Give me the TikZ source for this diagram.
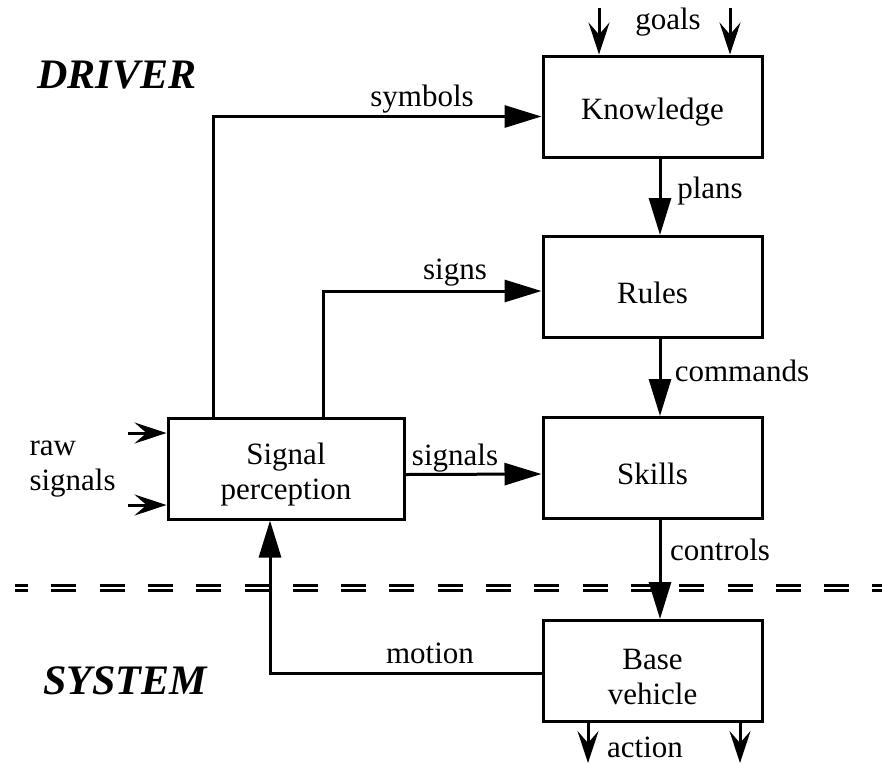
\documentclass[tikz,border=0pt]{standalone}
\usepackage{fontspec}
\setmainfont{Liberation Serif}
\usetikzlibrary{arrows.meta}
\begin{document}
\begin{tikzpicture}[x=1pt,y=-1pt,
  line width=3pt,
  every node/.style={font=\fontsize{31}{37}\selectfont, inner sep=0pt},
  blockbox/.style={draw, rectangle, minimum width=219pt, minimum height=101pt},
  boxtext/.style={label={[align=center, yshift=-6pt]center:{#1}}},
  bigtip/.style={-{Triangle[length=37pt,width=22pt]}},
  smalltip/.style={-{Stealth[length=32pt,width=21pt,inset=12pt]}},
  sidelabel/.style={font=\fontsize{42}{48}\selectfont\bfseries\itshape},
  divider/.style={line width=3pt, dash pattern=on 25pt off 23.3pt, dash phase=12pt}
]
\useasboundingbox (0,0) rectangle (882,764);

% blocks
\node[blockbox, boxtext=Knowledge] (know)   at (652.5,106.5) {};
\node[blockbox, boxtext=Rules]     (rules)  at (652.5,287)   {};
\node[blockbox, boxtext=Skills]    (skills) at (652.5,468)   {};
\node[blockbox, boxtext={Base\\[-2pt]vehicle}] (base) at (652.5,671) {};
\node[blockbox, minimum width=236pt, boxtext={Signal\\[-2pt]perception}] (sp) at (286,468.5) {};

% side labels
\node[sidelabel] (driver) at (117,75)  {DRIVER};
\node[sidelabel] (system) at (125,681) {SYSTEM};

% boundary between driver and system
\draw[divider] (15,585.5) -- (882,585.5);
\draw[divider] (15,590.5) -- (882,590.5);

% inputs from above
\coordinate (g1) at (599,8);
\coordinate (g2) at (730,8);
\draw[smalltip] (g1) -- (g1 |- know.north);
\draw[smalltip] (g2) -- (g2 |- know.north);
\node (goals) at (668,22) {goals};

% vertical chain
\draw[bigtip] (know.south -| 660,0) -- (rules.north -| 660,0);
\draw[bigtip] (rules.south -| 660,0) -- (skills.north -| 660,0);
\draw[bigtip] (skills.south -| 660,0) -- (base.north -| 660,0);
\node (plans)    at (710,191) {plans};
\node (commands) at (742,371) {commands};
\node (controls) at (720,550) {controls};

% perception outputs
\draw[bigtip] ([xshift=-73pt]sp.north) |- ([yshift=-10pt]know.west);
\draw[bigtip] ([xshift=37pt]sp.north) |- ([yshift=-4pt]rules.west);
\draw[bigtip] ([yshift=-6pt]sp.east) -- ([yshift=-6pt]skills.west);
\node (symbols) at (422,99)  {symbols};
\node (signs)   at (455,273) {signs};
\node (signals) at (455,458) {signals};

% raw signal inputs
\coordinate (r1) at (128,433);
\coordinate (r2) at (128,505);
\draw[smalltip] (r1) -- (r1 -| sp.west);
\draw[smalltip] (r2) -- (r2 -| sp.west);
\node[anchor=west, align=left] (raw) at (28,469) {raw\\[-2pt]signals};

% motion feedback
\draw[bigtip] ([yshift=-2pt]base.west) -| ([xshift=-16pt]sp.south);
\node (motion) at (430,653) {motion};

% vehicle outputs
\coordinate (a1) at (588,763);
\coordinate (a2) at (740,763);
\draw[smalltip] (a1 |- base.south) -- (a1);
\draw[smalltip] (a2 |- base.south) -- (a2);
\node (action) at (645,747) {action};
\end{tikzpicture}
\end{document}
